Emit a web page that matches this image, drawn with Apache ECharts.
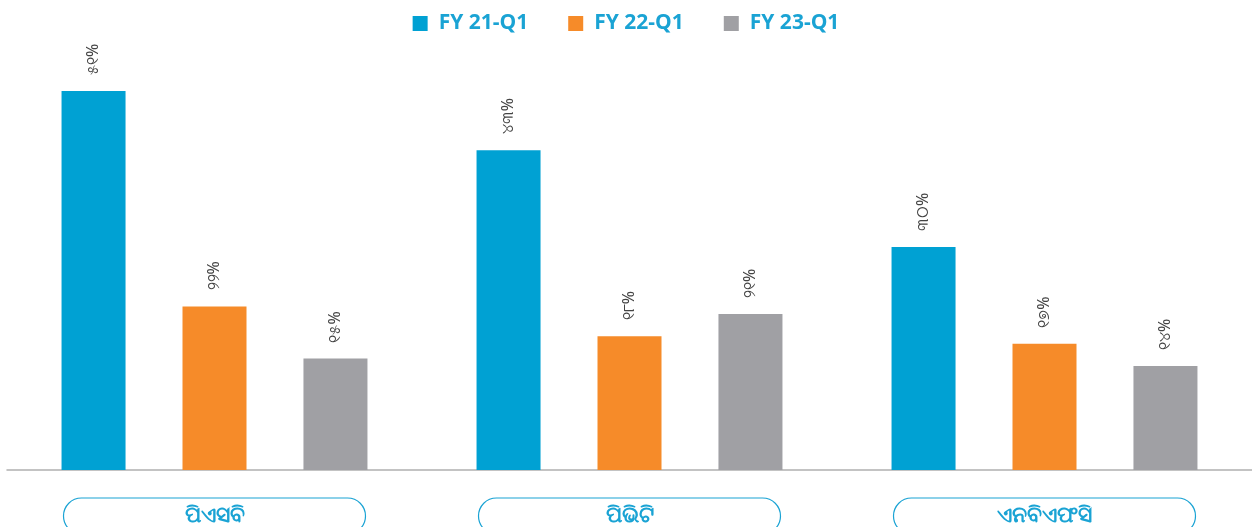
<!DOCTYPE html>
<html>
<head>
<meta charset="utf-8">
<script src="https://cdn.jsdelivr.net/npm/echarts@6/dist/echarts.min.js"></script>
<style>
  html, body { margin: 0; padding: 0; background: #fff; }
  #chart { width: 1252px; height: 527px; }
</style>
</head>
<body>
<div id="chart"></div>
<script>
// categories and series
const categories = ['ପିଏସବି', 'ପିଭିଟି', 'ଏନବିଏଫସି'];
const seriesNames = ['FY 21-Q1', 'FY 22-Q1', 'FY 23-Q1'];
const fy21 = [51, 43, 30];
const fy22 = [22, 18, 17];
const fy23 = [15, 21, 14];
const colors = ['#00a1d3', '#f68b29', '#a0a0a4'];

const odiaDigits = ['୦', '୧', '୨', '୩', '୪', '୫', '୬', '୭', '୮', '୯'];
function toOdia(n) {
  return String(n).replace(/[0-9]/g, d => odiaDigits[+d]);
}

const chart = echarts.init(document.getElementById('chart'));

const makeSeries = (name, data, color) => ({
  name: name,
  type: 'bar',
  data: data,
  barWidth: 64,
  barGap: '89%',
  itemStyle: { color: color },
  label: {
    show: true,
    position: 'top',
    rotate: 90,
    align: 'left',
    verticalAlign: 'middle',
    distance: 16,
    color: '#444',
    fontSize: 16,
    fontFamily: 'Noto Sans, DejaVu Sans, sans-serif',
    formatter: p => toOdia(p.value) + '%'
  }
});

chart.setOption({
  animation: false,
  color: colors,
  legend: {
    top: 8,
    left: 'center',
    itemWidth: 15,
    itemHeight: 15,
    itemGap: 40,
    icon: 'rect',
    textStyle: {
      color: '#1aa3d4',
      fontSize: 21,
      fontWeight: 'bold',
      fontFamily: 'Open Sans, sans-serif',
      padding: [0, 0, 0, 6]
    },
    data: seriesNames
  },
  grid: {
    left: 7, right: 0, top: 24, bottom: 57,
    containLabel: false,
    outerBoundsMode: 'none'
  },
  xAxis: {
    type: 'category',
    data: categories,
    axisLine: { lineStyle: { color: '#b0b0b0', width: 1.5 } },
    axisTick: { show: false },
    axisLabel: {
      margin: 46,
      color: '#1aa3d4',
      fontSize: 22,
      fontWeight: 'bold',
      width: 302,
      height: 36,
      align: 'center',
      verticalAlign: 'middle',
      lineHeight: 30,
      borderColor: '#1aa3d4',
      borderWidth: 1.2,
      borderRadius: 18,
      padding: [0, 0, 0, 0]
    }
  },
  yAxis: {
    type: 'value',
    min: 0,
    max: 60,
    show: false,
    splitLine: { show: false }
  },
  series: [
    makeSeries(seriesNames[0], fy21, colors[0]),
    makeSeries(seriesNames[1], fy22, colors[1]),
    makeSeries(seriesNames[2], fy23, colors[2])
  ]
});
</script>
</body>
</html>
